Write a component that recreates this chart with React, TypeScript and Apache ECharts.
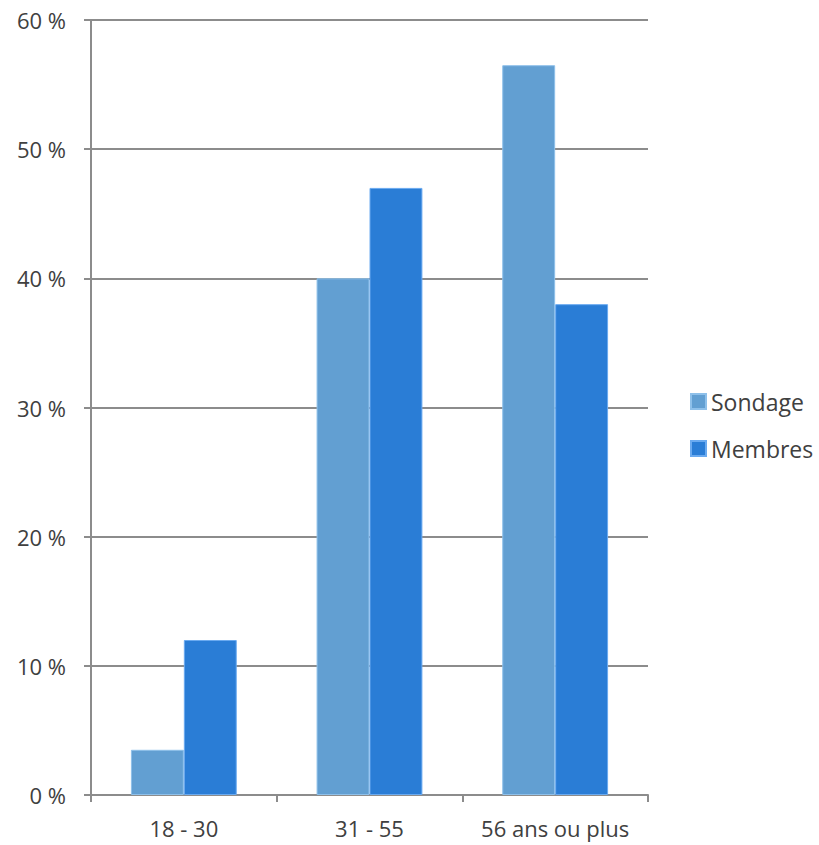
import React, { useEffect, useRef } from "react";
import * as echarts from "echarts";

const categories = ["18 - 30", "31 - 55", "56 ans ou plus"];
const sondage = [3.5, 40, 56.5];
const membres = [12, 47, 38];
const seriesNames = ["Sondage", "Membres"];

export default function App() {
  const ref = useRef<HTMLDivElement>(null);
  useEffect(() => {
    if (!ref.current) return;
    const chart = echarts.init(ref.current, null, { renderer: "svg" });
    const font = "'Open Sans', 'DejaVu Sans', sans-serif";
    chart.setOption({
      animation: false,
      grid: { left: 91, right: 171, top: 20, bottom: 50, containLabel: false },
      legend: {
        orient: "vertical",
        left: 685,
        top: 385,
        itemWidth: 15,
        itemHeight: 15,
        itemGap: 24,
        icon: "rect",
        textStyle: { fontSize: 23, color: "#404040", fontFamily: font },
        data: seriesNames,
      },
      xAxis: {
        type: "category",
        data: categories,
        axisLine: { lineStyle: { color: "#8c8c8c", width: 2 } },
        axisTick: { show: true, length: 7, lineStyle: { color: "#8c8c8c", width: 2 } },
        axisLabel: { fontSize: 22, color: "#404040", fontFamily: font, margin: 22, interval: 0 },
      },
      yAxis: {
        type: "value",
        min: 0,
        max: 60,
        interval: 10,
        axisLine: { show: true, lineStyle: { color: "#8c8c8c", width: 2 } },
        axisTick: { show: true, length: 7, lineStyle: { color: "#8c8c8c", width: 2 } },
        splitLine: { lineStyle: { color: "#8c8c8c", width: 2 } },
        axisLabel: {
          fontSize: 22,
          color: "#404040",
          fontFamily: font,
          margin: 25,
          formatter: (v: number) => `${v} %`,
        },
      },
      series: [
        {
          name: seriesNames[0],
          type: "bar",
          data: sondage,
          barWidth: "28.5%",
          barGap: "0%",
          itemStyle: { color: "#629fd2", borderColor: "#8ec0ea", borderWidth: 1 },
        },
        {
          name: seriesNames[1],
          type: "bar",
          data: membres,
          barWidth: "28.5%",
          barGap: "0%",
          itemStyle: { color: "#2a7dd6", borderColor: "#6aaaf0", borderWidth: 1 },
        },
      ],
    });
    return () => chart.dispose();
  }, []);
  return <div ref={ref} style={{ width: 819, height: 845, position: "absolute", left: 0, top: 0, background: "#fff" }} />;
}
